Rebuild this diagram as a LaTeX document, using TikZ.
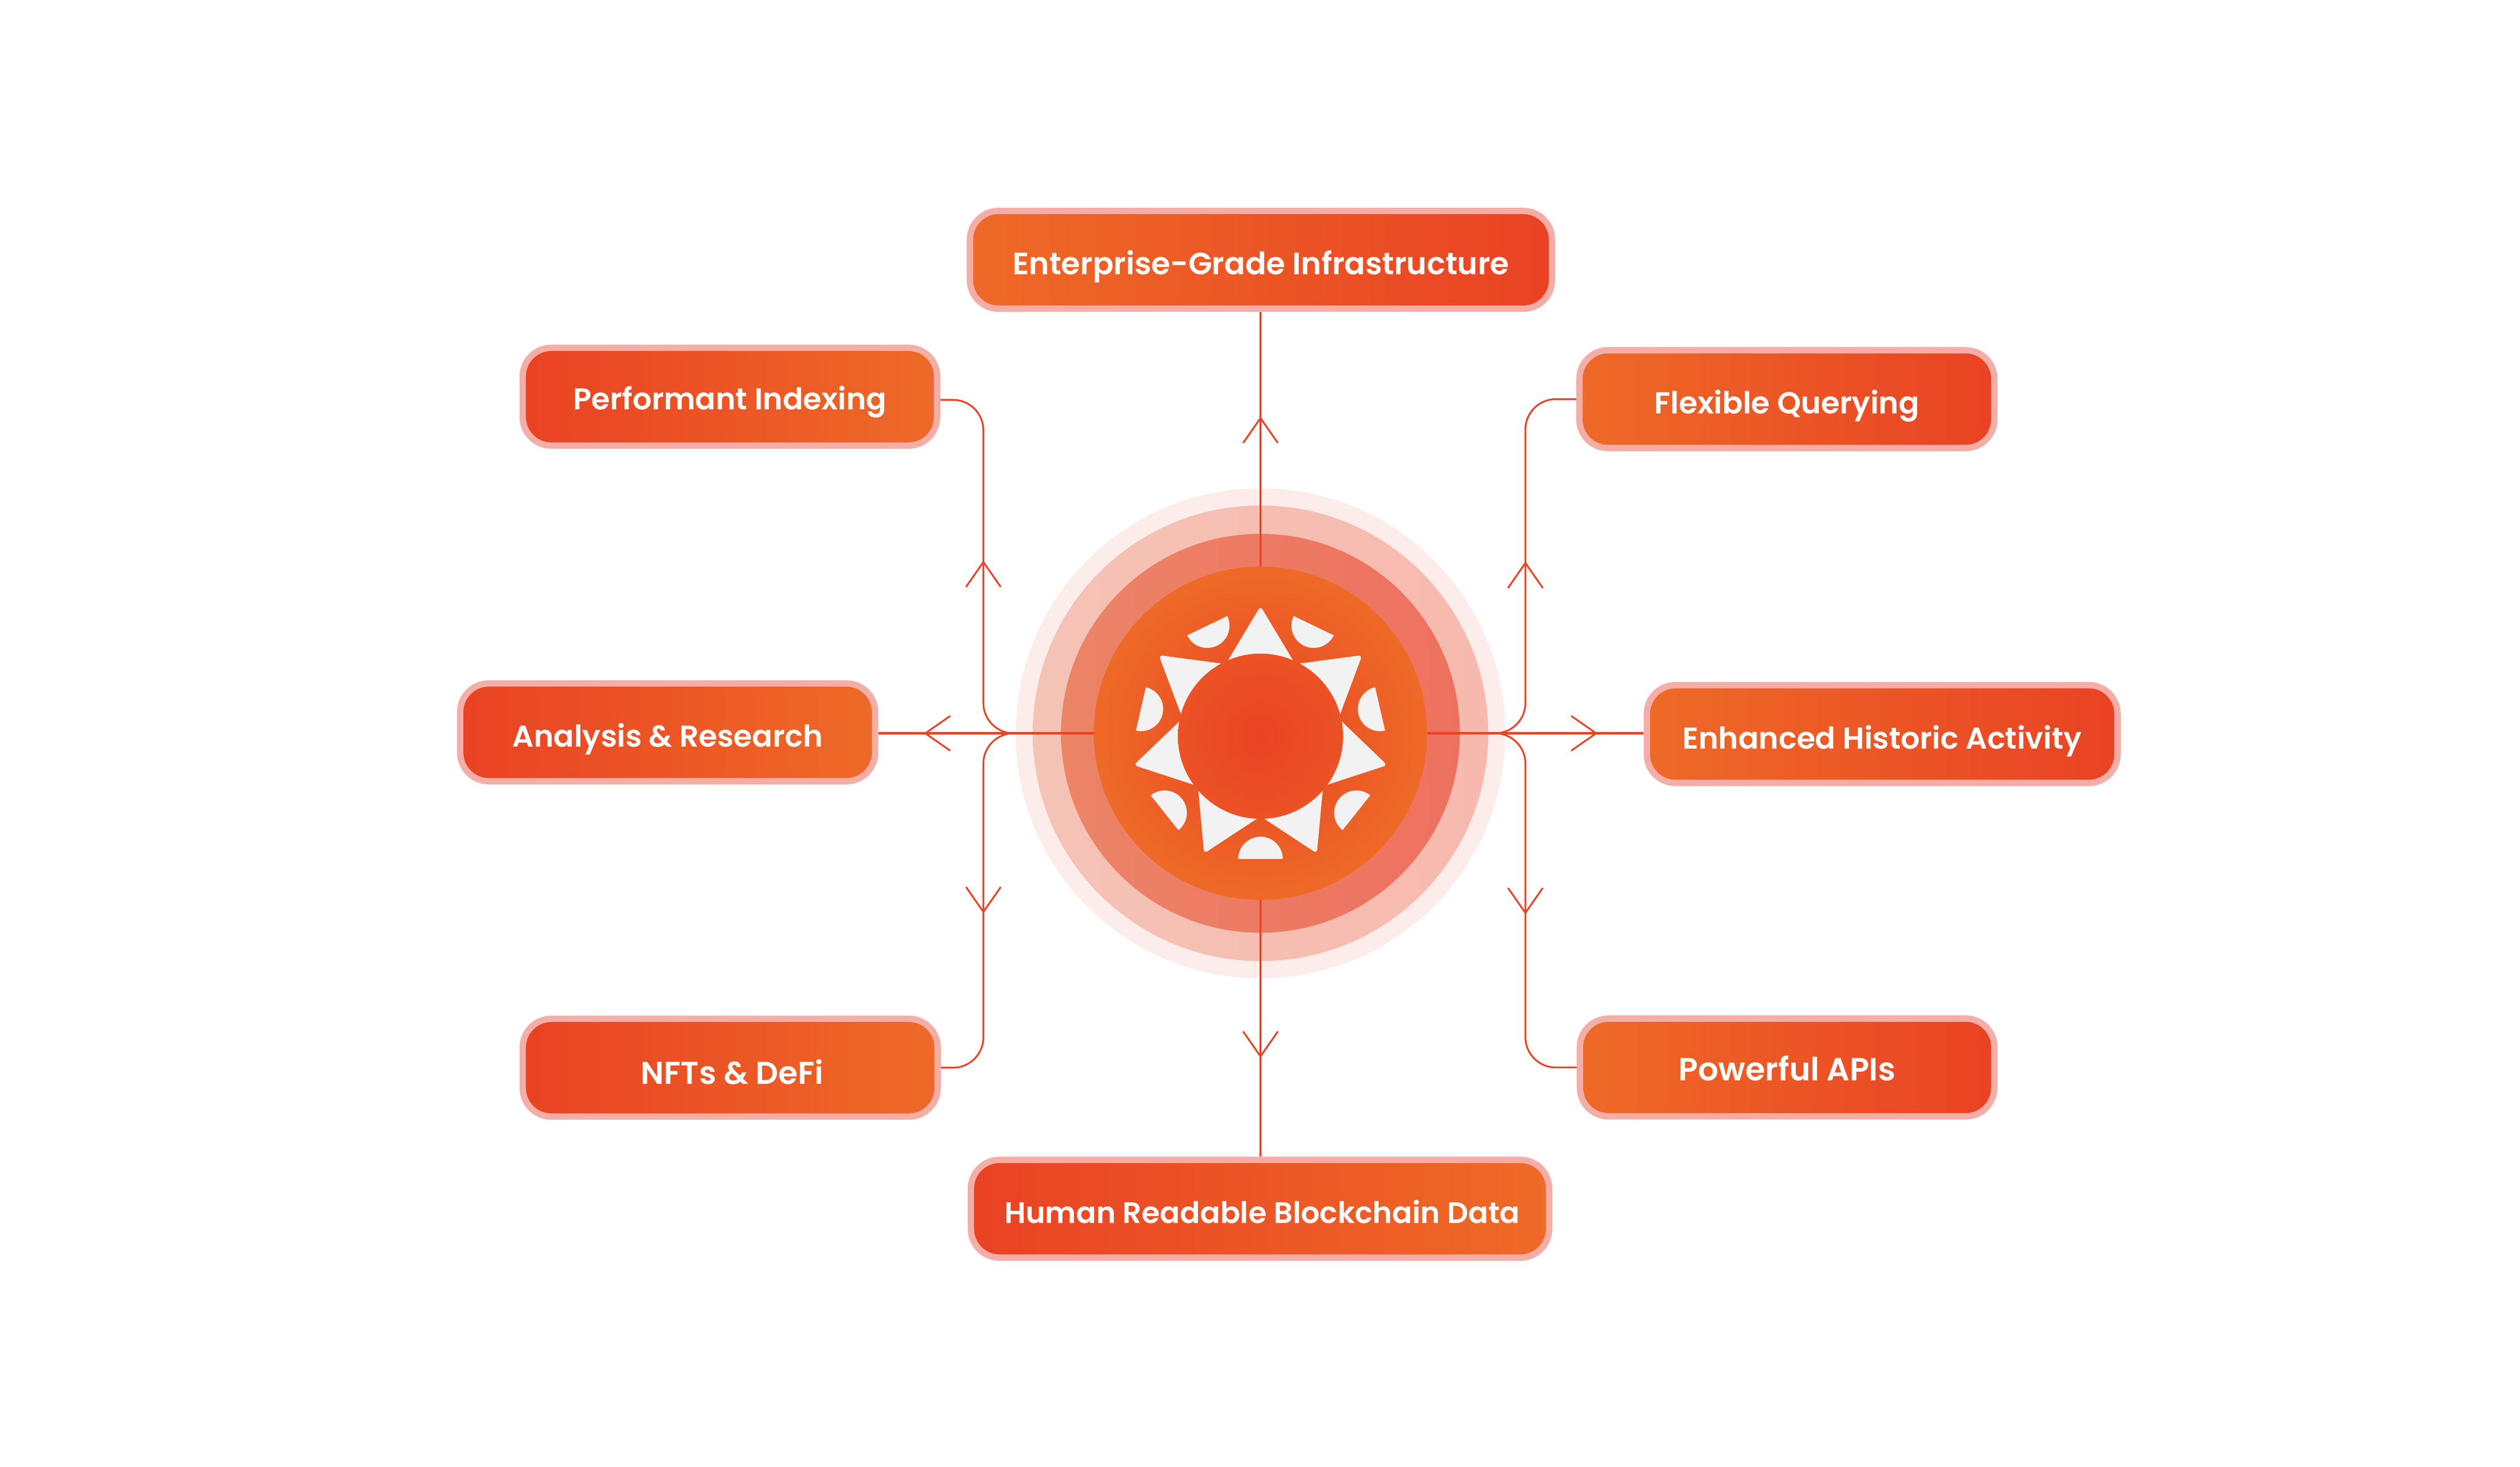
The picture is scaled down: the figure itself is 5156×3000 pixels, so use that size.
\documentclass[tikz,border=0pt]{standalone}
\usepackage{fontspec}
\usetikzlibrary{arrows.meta}
\usetikzlibrary{decorations.markings}
\newfontfamily\pillfont{Poppins SemiBold}
\definecolor{sunred}{HTML}{E94224}
\definecolor{sunorange}{HTML}{EE6A27}
\definecolor{pillrim}{HTML}{F4AEA7}
\definecolor{raypale}{HTML}{F2F2F2}
\definecolor{haloa}{HTML}{FCEDEA}
\definecolor{halobl}{HTML}{F5C3B6}
\definecolor{halobr}{HTML}{F7B9AE}
\definecolor{halocl}{HTML}{EC8466}
\definecolor{halocr}{HTML}{EE7160}
\tikzset{
	wire/.style={color=sunred,line width=3.6pt},
	tipat/.style={postaction={decorate},decoration={markings,mark=at position #1 with {\arrow[line width=3.6pt]{Straight Barb[length=51pt,width=71pt]}}}},
	pillsize/.style={font=\pillfont\fontsize{#1}{75}\selectfont},
	pill/.style={rectangle,rounded corners=58.5pt,draw=pillrim,line width=13pt,minimum height=200pt,inner sep=0pt,text=white,text height=60pt,text depth=0pt,pillsize=61.5},
	pillr/.style={pill,left color=sunorange,right color=sunred},
	pilll/.style={pill,left color=sunred,right color=sunorange},
}

\begin{document}
\begin{tikzpicture}[x=1pt,y=1pt]
	\useasboundingbox (0,0) rectangle (5156,3000);
	\fill[haloa] (2579,1500) circle (501);
	\shade[left color=halobl,right color=halobr] (2579,1500) circle (466);
	\shade[left color=halocl,right color=halocr] (2579,1500) circle (408);
	\node[circle,minimum size=682pt,inner sep=0pt,outer sep=0pt,inner color=sunred,outer color=sunorange] (core) at (2579,1500) {};
	\coordinate (sun) at (2579,1494);
	\foreach \k in {0,...,6} {
		\begin{scope}[shift={(sun)},rotate=\k*360/7]
			\fill[raypale] (-66,156) [rounded corners=8pt] -- (0,266) [sharp corners] -- (66,156) -- (0,0) -- cycle;
			\fill[raypale] (-45.5,-251) arc[start angle=180,end angle=0,radius=45.5] -- cycle;
		\end{scope}
	}
	\shade[inner color=sunred,outer color=sunred!60!sunorange] (sun) circle (169);

	\node[pillr,minimum width=1191pt,pillsize=63] (infra) at (2580,2468.5) {Enterprise-Grade Infrastructure};
	\node[pilll,minimum width=848pt,text height=52pt] (perform) at (1493.5,2188.5) {Performant Indexing};
	\node[pillr,minimum width=849pt,pillsize=62] (flexq) at (3656,2183.5) {Flexible Querying};
	\node[pilll,minimum width=849pt] (analysis) at (1366,1502) {Analysis \& Research};
	\node[pillr,minimum width=963pt] (histo) at (3851,1498.5) {Enhanced Historic Activity};
	\node[pilll,minimum width=849pt,text height=68pt,pillsize=64.5] (nftdefi) at (1494,816) {\hspace*{8pt}NFTs \& DeFi};
	\node[pillr,minimum width=848pt,text height=53pt,pillsize=65.5] (apis) at (3656.5,816.5) {Powerful APIs};
	\node[pilll,minimum width=1183pt,pillsize=60.5] (human) at (2578,527.5) {\hspace*{9pt}Human Readable Blockchain Data};

	\coordinate (hubl) at (2074,1500);
	\coordinate (hubr) at (3059,1500);
	\draw[wire,tipat=307pt] (core.north) -- (core.north |- infra.south);
	\draw[wire,tipat=323pt] (core.south) -- (core.south |- human.north);
	\draw[wire,line width=4.5pt,tipat=348pt] (core.west) -- (core.west -| analysis.east);
	\draw[wire,line width=4.5pt,tipat=349pt] (core.east) -- (core.east -| histo.west);
	\draw[wire,rounded corners=62pt,tipat=389pt] (hubl) -- (2012,1500) |- ([yshift=-6.5pt]perform.east);
	\draw[wire,rounded corners=62pt,tipat=404pt] (hubl) -- (2012,1500) |- (nftdefi.east);
	\draw[wire,rounded corners=62pt,tipat=387pt] (hubr) -- (3121,1500) |- (flexq.west);
	\draw[wire,rounded corners=62pt,tipat=406pt] (hubr) -- (3121,1500) |- (apis.west);
\end{tikzpicture}
\end{document}
